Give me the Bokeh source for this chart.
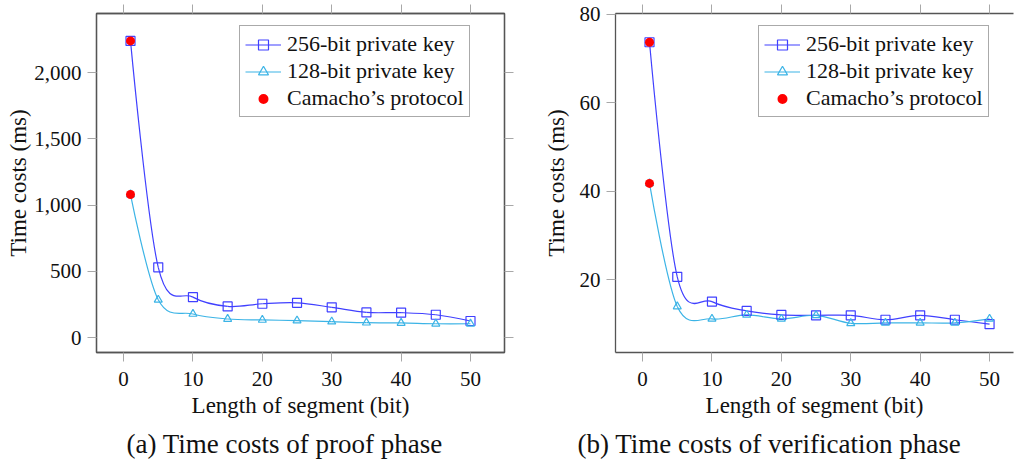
import numpy as np
from bokeh.plotting import figure
from bokeh.layouts import row
from bokeh.models import (ColumnDataSource, LinearAxis, Range1d, FixedTicker,
                          NumeralTickFormatter, Legend, LegendItem, Title)
from bokeh.embed import file_html
from bokeh.resources import INLINE

# ---------------- data ----------------
segment_length = [1, 5, 10, 15, 20, 25, 30, 35, 40, 45, 50]

proof_256 = [2240, 530, 305, 235, 255, 262, 228, 190, 188, 172, 125]
proof_128 = [1080, 285, 178, 140, 133, 128, 120, 112, 110, 104, 104]
proof_camacho_x = [1, 1]
proof_camacho = [2240, 1080]

verif_256 = [73.7, 20.7, 15.1, 13.0, 12.1, 12.0, 12.0, 11.0, 12.0, 11.0, 10.0]
verif_128 = [41.8, 14.0, 11.2, 12.1, 11.2, 12.0, 10.2, 10.3, 10.3, 10.3, 11.2]
verif_camacho_x = [1, 1]
verif_camacho = [73.7, 41.8]

x_ticks = [0, 10, 20, 30, 40, 50]
proof_y_ticks = [0, 500, 1000, 1500, 2000]
verif_y_ticks = [20, 40, 60, 80]

labels = ["256-bit private key", "128-bit private key", "Camacho\u2019s protocol"]
captions = ["(a) Time costs of proof phase", "(b) Time costs of verification phase"]
x_label = "Length of segment (bit)"
y_label = "Time costs (ms)"

# ---------------- style ----------------
FONT = "Liberation Serif"
BLUE = "#4040ff"
CYAN = "#3cb4e6"
RED = "#ff0000"
FRAME = "#555555"
TICK = "#a8a8a8"
TEXT = "#111111"
TENSION = 0.17
HEIGHT = 466
TOP = 13
FRAME_H = 339


def smooth_source(xs, ys, t=TENSION):
    """Cubic Bezier control points (TikZ 'smooth' style) for a polyline."""
    x = np.asarray(xs, float)
    y = np.asarray(ys, float)
    n = len(x)
    tx = np.zeros(n)
    ty = np.zeros(n)
    tx[1:-1] = x[2:] - x[:-2]
    ty[1:-1] = y[2:] - y[:-2]
    return ColumnDataSource(dict(
        x0=x[:-1], y0=y[:-1], x1=x[1:], y1=y[1:],
        cx0=x[:-1] + t * tx[:-1], cy0=y[:-1] + t * ty[:-1],
        cx1=x[1:] - t * tx[1:], cy1=y[1:] - t * ty[1:]))


def style_axis(ax, ticks, labels_on=True):
    ax.axis_line_color = FRAME
    ax.axis_line_width = 1.3
    ax.major_tick_line_color = TICK
    ax.major_tick_in = 0
    ax.major_tick_out = 9
    ax.minor_tick_line_color = None
    ax.major_label_text_font = FONT
    ax.major_label_text_color = TEXT
    ax.axis_label_text_font = FONT
    ax.axis_label_text_font_size = "23px"
    ax.axis_label_text_font_style = "normal"
    ax.axis_label_text_color = TEXT
    if labels_on:
        ax.major_label_text_font_size = "21px"
    else:
        ax.major_label_overrides = {t: "" for t in ticks}
        ax.major_label_text_font_size = "1px"
        ax.major_label_standoff = 0


def make_plot(width, x_end, y_rng, y_ticks, y256, y128, cam_x, cam_y,
              caption, cap_offset, border_left, border_right, right_axis,
              y_fmt, ylab_standoff):
    p = figure(width=width, height=HEIGHT, title=None,
               x_range=Range1d(-3.9, x_end), y_range=Range1d(*y_rng),
               x_axis_location=None, y_axis_location=None,
               output_backend="svg", toolbar_location=None,
               min_border_left=border_left, min_border_right=border_right,
               min_border_top=TOP, min_border_bottom=HEIGHT - TOP - FRAME_H)
    p.grid.visible = False
    p.background_fill_color = "white"
    p.border_fill_color = "white"
    if right_axis:
        p.outline_line_color = FRAME
        p.outline_line_width = 1.3
    else:
        p.outline_line_color = None

    left = LinearAxis(ticker=FixedTicker(ticks=y_ticks), axis_label=y_label)
    if y_fmt:
        left.formatter = NumeralTickFormatter(format="0,0")
    style_axis(left, y_ticks)
    left.major_label_standoff = 6
    left.axis_label_standoff = ylab_standoff
    p.add_layout(left, "left")

    below = LinearAxis(ticker=FixedTicker(ticks=x_ticks), axis_label=x_label)
    style_axis(below, x_ticks)
    below.major_label_standoff = 10
    below.axis_label_standoff = 4
    p.add_layout(below, "below")

    above = LinearAxis(ticker=FixedTicker(ticks=x_ticks))
    style_axis(above, x_ticks, labels_on=False)
    p.add_layout(above, "above")

    if right_axis:
        right = LinearAxis(ticker=FixedTicker(ticks=y_ticks))
        style_axis(right, y_ticks, labels_on=False)
        p.add_layout(right, "right")

    s256 = smooth_source(segment_length, y256)
    s128 = smooth_source(segment_length, y128)
    b256 = p.bezier(x0="x0", y0="y0", x1="x1", y1="y1", cx0="cx0", cy0="cy0",
                    cx1="cx1", cy1="cy1", source=s256, line_color=BLUE, line_width=1.2)
    b128 = p.bezier(x0="x0", y0="y0", x1="x1", y1="y1", cx0="cx0", cy0="cy0",
                    cx1="cx1", cy1="cy1", source=s128, line_color=CYAN, line_width=1.2)
    m256 = p.scatter(segment_length, y256, marker="square", size=9,
                     line_color=BLUE, line_width=1.2, fill_color=None)
    m128 = p.scatter(segment_length, y128, marker="triangle", size=8,
                     line_color=CYAN, line_width=1.2, fill_color=None)
    cam = p.scatter(cam_x, cam_y, marker="circle", size=9,
                    line_color=None, fill_color=RED)

    legend = Legend(items=[
        LegendItem(label=labels[0], renderers=[b256, m256]),
        LegendItem(label=labels[1], renderers=[b128, m128]),
        LegendItem(label=labels[2], renderers=[cam]),
    ], location=(143, FRAME_H - 17 - 87), margin=0, padding=5, spacing=1,
        glyph_width=36, glyph_height=25, label_height=25, label_standoff=6,
        label_text_font=FONT, label_text_font_size="22px",
        label_text_color=TEXT,
        border_line_color=FRAME, border_line_width=1.3,
        background_fill_color="white", background_fill_alpha=1.0)
    p.add_layout(legend, "center")

    cap = Title(text=caption, align="left", offset=cap_offset,
                text_font=FONT, text_font_size="27px", text_font_style="normal",
                text_color=TEXT, standoff=13)
    p.add_layout(cap, "below")
    return p


p1 = make_plot(528, 54.9, (-113, 2447), proof_y_ticks, proof_256, proof_128,
               proof_camacho_x, proof_camacho, captions[0], 30, 96, 24, True, True, 0)
p2 = make_plot(486, 53.45, (3.6, 80.2), verif_y_ticks, verif_256, verif_128,
               verif_camacho_x, verif_camacho, captions[1], -38, 87, 1, False, False, 8)

layout = row(p1, p2)
open("out.html", "w").write(file_html(layout, INLINE))
